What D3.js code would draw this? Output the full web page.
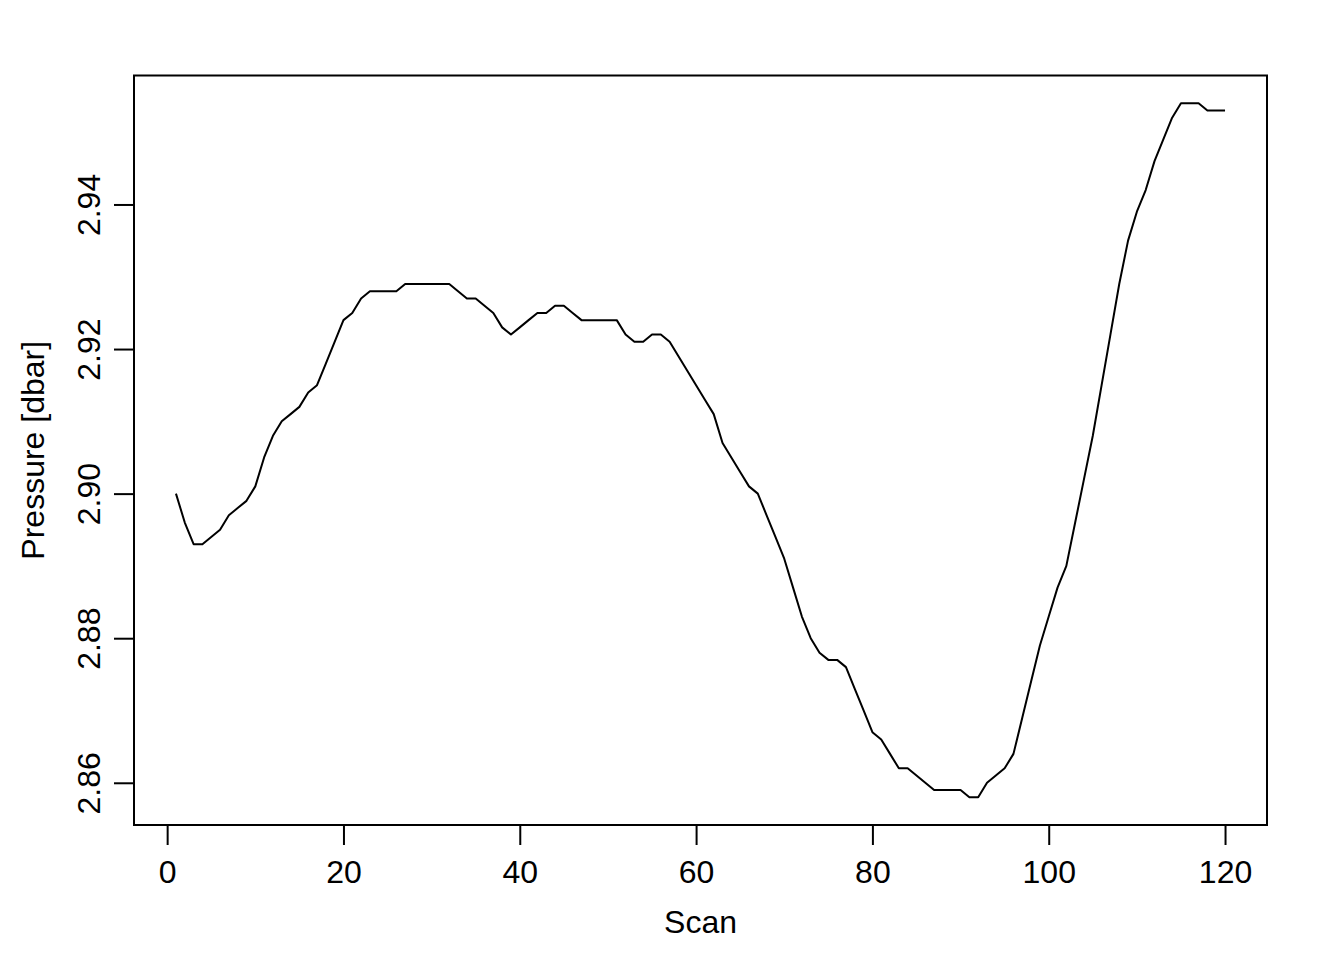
<!DOCTYPE html>
<html>
<head>
<meta charset="utf-8">
<script src="https://cdn.jsdelivr.net/npm/d3@7"></script>
<style>
  html, body { margin: 0; padding: 0; background: #fff; }
  svg { display: block; }
  text { font-family: "Liberation Sans", Arial, Helvetica, sans-serif; fill: #000; }
</style>
</head>
<body>
<svg id="chart" width="1344" height="960"></svg>
<script>
// ---- data ----
const pressure = [
  2.900, 2.896, 2.893, 2.893, 2.894, 2.895, 2.897, 2.898, 2.899, 2.901,
  2.905, 2.908, 2.910, 2.911, 2.912, 2.914, 2.915, 2.918, 2.921, 2.924,
  2.925, 2.927, 2.928, 2.928, 2.928, 2.928, 2.929, 2.929, 2.929, 2.929,
  2.929, 2.929, 2.928, 2.927, 2.927, 2.926, 2.925, 2.923, 2.922, 2.923,
  2.924, 2.925, 2.925, 2.926, 2.926, 2.925, 2.924, 2.924, 2.924, 2.924,
  2.924, 2.922, 2.921, 2.921, 2.922, 2.922, 2.921, 2.919, 2.917, 2.915,
  2.913, 2.911, 2.907, 2.905, 2.903, 2.901, 2.900, 2.897, 2.894, 2.891,
  2.887, 2.883, 2.880, 2.878, 2.877, 2.877, 2.876, 2.873, 2.870, 2.867,
  2.866, 2.864, 2.862, 2.862, 2.861, 2.860, 2.859, 2.859, 2.859, 2.859,
  2.858, 2.858, 2.860, 2.861, 2.862, 2.864, 2.869, 2.874, 2.879, 2.883,
  2.887, 2.890, 2.896, 2.902, 2.908, 2.915, 2.922, 2.929, 2.935, 2.939,
  2.942, 2.946, 2.949, 2.952, 2.954, 2.954, 2.954, 2.953, 2.953, 2.953
];
const scans = pressure.map((_, i) => i + 1);
const xTicks = [0, 20, 40, 60, 80, 100, 120];
const yTicks = [2.86, 2.88, 2.90, 2.92, 2.94];
const xTitle = "Scan";
const yTitle = "Pressure [dbar]";

// ---- layout ----
const plotL = 134, plotR = 1267, plotT = 75.5, plotB = 825;
const svg = d3.select("#chart");

function rExtend(ext) {
  const r = ext[1] - ext[0];
  return [ext[0] - 0.04 * r, ext[1] + 0.04 * r];
}
const x = d3.scaleLinear().domain(rExtend(d3.extent(scans))).range([plotL, plotR]);
const y = d3.scaleLinear().domain(rExtend(d3.extent(pressure))).range([plotB, plotT]);

// data line
const line = d3.line().x((d, i) => x(scans[i])).y(d => y(d));
svg.append("path")
  .datum(pressure)
  .attr("d", line)
  .attr("fill", "none")
  .attr("stroke", "#000")
  .attr("stroke-width", 2)
  .attr("stroke-linejoin", "round");

// box
svg.append("rect")
  .attr("x", plotL).attr("y", plotT)
  .attr("width", plotR - plotL).attr("height", plotB - plotT)
  .attr("fill", "none").attr("stroke", "#000").attr("stroke-width", 2);

// x axis
const gx = svg.append("g").attr("transform", `translate(0,${plotB})`)
  .call(d3.axisBottom(x).tickValues(xTicks).tickSize(20).tickSizeOuter(0).tickFormat(d3.format("d")));
gx.select(".domain").remove();
gx.selectAll(".tick line").attr("stroke", "#000").attr("stroke-width", 2);
gx.selectAll(".tick text")
  .attr("y", 58).attr("dy", 0)
  .style("font-size", "32px").style("font-family", "'Liberation Sans', Arial, sans-serif")
  .attr("fill", "#000");

// y axis
const gy = svg.append("g").attr("transform", `translate(${plotL},0)`)
  .call(d3.axisLeft(y).tickValues(yTicks).tickSize(20).tickSizeOuter(0).tickFormat(d3.format(".2f")));
gy.select(".domain").remove();
gy.selectAll(".tick line").attr("stroke", "#000").attr("stroke-width", 2);
gy.selectAll(".tick text")
  .attr("x", 0).attr("y", 0).attr("dy", 0)
  .attr("transform", "translate(-34,0) rotate(-90)")
  .attr("text-anchor", "middle")
  .style("font-size", "32px").style("font-family", "'Liberation Sans', Arial, sans-serif")
  .attr("fill", "#000");

// titles
svg.append("text")
  .attr("x", (plotL + plotR) / 2).attr("y", 933)
  .attr("text-anchor", "middle")
  .style("font-size", "32px")
  .text(xTitle);
svg.append("text")
  .attr("transform", `translate(44,${(plotT + plotB) / 2}) rotate(-90)`)
  .attr("text-anchor", "middle")
  .style("font-size", "32px")
  .text(yTitle);
</script>
</body>
</html>
